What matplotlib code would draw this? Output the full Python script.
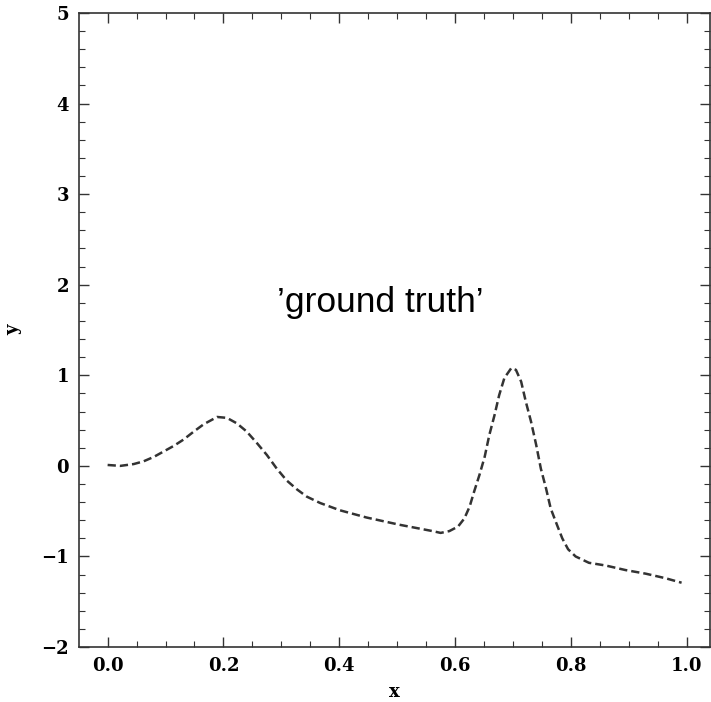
import matplotlib
matplotlib.use("Agg")
import matplotlib.pyplot as plt
from matplotlib.ticker import MultipleLocator

x_vals = [0.000, 0.022, 0.045, 0.062, 0.080, 0.097, 0.114, 0.131, 0.149, 0.166,
          0.189, 0.206, 0.223, 0.240, 0.258, 0.275, 0.292, 0.309, 0.327, 0.344,
          0.367, 0.401, 0.447, 0.504, 0.561, 0.575, 0.590, 0.605, 0.616, 0.625,
          0.633, 0.642, 0.651, 0.659, 0.668, 0.676, 0.685, 0.697, 0.705, 0.714,
          0.722, 0.731, 0.740, 0.748, 0.757, 0.765, 0.777, 0.785, 0.795, 0.808,
          0.831, 0.860, 0.894, 0.929, 0.963, 0.991]
y_vals = [0.01, 0.00, 0.02, 0.05, 0.10, 0.16, 0.22, 0.29, 0.38, 0.46,
          0.54, 0.53, 0.47, 0.38, 0.25, 0.12, -0.03, -0.16, -0.26, -0.34,
          -0.41, -0.49, -0.57, -0.65, -0.72, -0.74, -0.72, -0.67, -0.58, -0.45,
          -0.28, -0.10, 0.10, 0.34, 0.56, 0.78, 0.97, 1.08, 1.06, 0.93,
          0.71, 0.49, 0.23, -0.03, -0.25, -0.47, -0.67, -0.80, -0.92, -1.00,
          -1.07, -1.10, -1.15, -1.19, -1.24, -1.29]
x_ticks = [0.0, 0.2, 0.4, 0.6, 0.8, 1.0]
y_ticks = [-2, -1, 0, 1, 2, 3, 4, 5]
label_text = "\u2019ground truth\u2019"

plt.rcParams['font.family'] = ['DejaVu Serif']
plt.rcParams['font.weight'] = 'bold'
plt.rcParams['axes.unicode_minus'] = True

fig = plt.figure(figsize=(7.11, 7.02), dpi=100)
ax = fig.add_axes([0.111, 0.0783, 0.888, 0.9032])

ax.plot(x_vals, y_vals, linestyle='--', color='#333333', linewidth=1.8,
        dashes=(3.3, 1.6))

ax.set_ylim(-2, 5)
ax.set_xticks(x_ticks)
ax.set_xticklabels([f"{t:.1f}" for t in x_ticks])
ax.set_yticks(y_ticks)
ax.set_yticklabels([("\u2212" if t < 0 else "") + str(abs(t)) for t in y_ticks])
ax.xaxis.set_minor_locator(MultipleLocator(0.05))
ax.yaxis.set_minor_locator(MultipleLocator(0.2))
ax.tick_params(which='both', direction='in', top=True, right=True, color='#333333')
ax.tick_params(which='major', length=7, width=1.0, labelsize=13, pad=7)
ax.tick_params(which='minor', length=4, width=0.8)
for lab in ax.get_xticklabels() + ax.get_yticklabels():
    lab.set_fontweight('bold')
for s in ax.spines.values():
    s.set_linewidth(1.2)
    s.set_color('#333333')

ax.set_xlabel('x', fontsize=13, fontweight='bold', labelpad=6)
ax.set_ylabel('y', fontsize=13, fontweight='bold', labelpad=14)

ax.text(0.293, 1.70, label_text, fontsize=25.5, family=['Liberation Sans', 'DejaVu Sans'],
        fontweight='normal', ha='left', va='baseline', color='black')

fig.savefig('out.png', dpi=100)
